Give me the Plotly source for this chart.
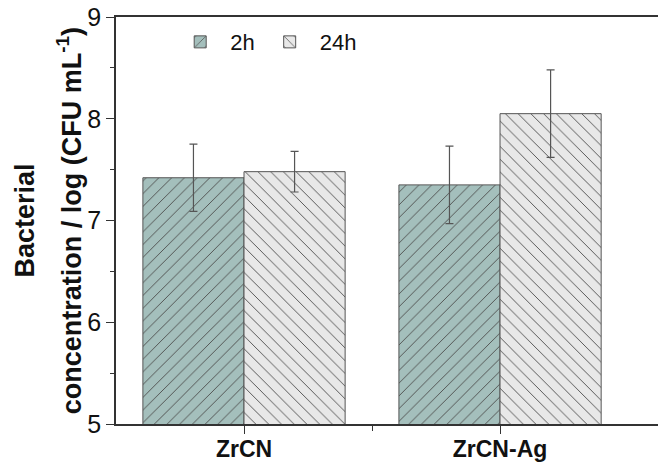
import plotly.graph_objects as go

categories = ["ZrCN", "ZrCN-Ag"]
series_names = ["2h", "24h"]
values_2h = [7.42, 7.35]
errors_2h = [0.33, 0.38]
values_24h = [7.48, 8.05]
errors_24h = [0.20, 0.43]
y_ticks = [5, 6, 7, 8, 9]

xpos = list(range(len(categories)))
FONT = "Liberation Sans, Arial, sans-serif"

fig = go.Figure()
styles = [
    dict(bg="#a4bfbc", shape="/"),
    dict(bg="#e8e8e8", shape="\\"),
]
for name, vals, errs, st in zip(series_names, [values_2h, values_24h], [errors_2h, errors_24h], styles):
    fig.add_trace(go.Bar(
        x=xpos, y=vals, name=name,
        marker=dict(
            color=st["bg"],
            line=dict(color="#555555", width=1),
            pattern=dict(shape=st["shape"], bgcolor=st["bg"], fgcolor="#4a4a4a",
                         size=9, solidity=0.1, fillmode="replace"),
        ),
        error_y=dict(type="data", array=errs, color="#555555", thickness=1.2, width=4),
    ))

fig.update_layout(
    width=658, height=462,
    margin=dict(l=116, r=0, t=17, b=38, autoexpand=False),
    plot_bgcolor="white", paper_bgcolor="white",
    barmode="group", bargap=0.21, bargroupgap=0,
    font=dict(family=FONT, color="#111111"),
    showlegend=True,
    legend=dict(orientation="h", x=0.1, y=0.99, xanchor="left", yanchor="top",
                font=dict(size=22), bgcolor="rgba(0,0,0,0)", itemwidth=50,
                tracegroupgap=0),
    xaxis=dict(
        range=[-0.5, 1.617], tickmode="array", tickvals=xpos, ticktext=categories,
        showline=True, linecolor="#333333", linewidth=1.5, mirror=True,
        ticks="outside", ticklen=8, tickcolor="#333333", automargin=False,
        tickfont=dict(size=23, family=FONT, weight="bold"), ticklabelstandoff=-4,
        minor=dict(tickvals=[0.5], ticks="outside", ticklen=5, tickcolor="#333333"),
        showgrid=False, zeroline=False,
    ),
    yaxis=dict(
        range=[5, 9], tickvals=y_ticks, automargin=False,
        showline=True, linecolor="#333333", linewidth=1.5, mirror=False,
        ticks="outside", ticklen=8, tickcolor="#333333",
        tickfont=dict(size=25), showgrid=False, zeroline=False,
        minor=dict(tickvals=[5.5, 6.5, 7.5, 8.5], ticks="outside", ticklen=4, tickcolor="#333333"),
    ),
    yaxis2=dict(
        range=[5, 9], overlaying="y", side="right", tickvals=[6, 7, 8], automargin=False,
        ticks="inside", ticklen=4, tickcolor="#333333", showticklabels=False,
        showline=False, showgrid=False, zeroline=False,
    ),
)

fig.add_annotation(text="<b>Bacterial</b>", xref="paper", yref="paper",
                   x=-0.168, y=0.5, textangle=-90, showarrow=False,
                   font=dict(size=27), xanchor="center", yanchor="middle")
fig.add_annotation(text="<b>concentration / log (CFU mL<sup>-1</sup>)</b>", xref="paper", yref="paper",
                   x=-0.087, y=0.5, textangle=-90, showarrow=False,
                   font=dict(size=27), xanchor="center", yanchor="middle")

fig.write_html("out.html")
